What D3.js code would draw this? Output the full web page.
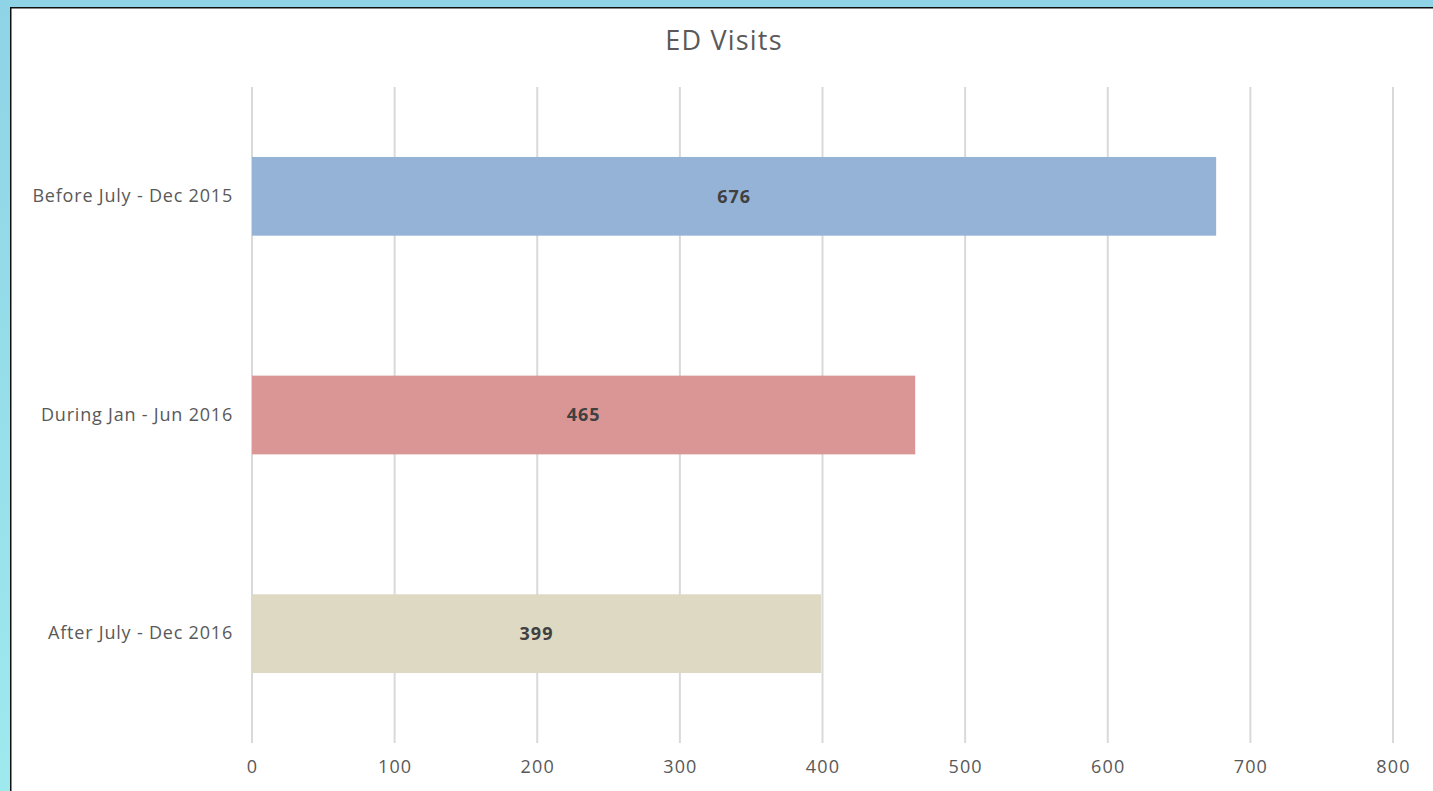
<!DOCTYPE html>
<html>
<head>
<meta charset="utf-8">
<script src="https://cdn.jsdelivr.net/npm/d3@7"></script>
<style>
  html, body { margin: 0; padding: 0; }
  body { width: 1433px; height: 791px; overflow: hidden;
         background: linear-gradient(#8fd3e6, #9ee9ee); }
  #chart { position: absolute; left: 10px; top: 7px; }
</style>
</head>
<body>
<div id="chart"></div>
<script>
// data
var categories = ["Before July - Dec 2015", "During Jan - Jun 2016", "After July - Dec 2016"];
var visits = [676, 465, 399];
var barColors = ["#95b3d7", "#d99694", "#ddd9c3"];
var tickValues = [0, 100, 200, 300, 400, 500, 600, 700, 800];

var W = 1423, H = 784;
var svg = d3.select("#chart").append("svg")
    .attr("width", W).attr("height", H)
    .style("background", "#fff")
    .style("display", "block");

// black frame line on top and left
svg.append("line").attr("x1", 0).attr("x2", W).attr("y1", 0).attr("y2", 0)
    .style("stroke", "#111").style("stroke-width", 3);
svg.append("line").attr("x1", 0).attr("x2", 0).attr("y1", 0).attr("y2", H)
    .style("stroke", "#111").style("stroke-width", 3);

var plotLeft = 242, plotRight = 1383, plotTop = 80, plotBottom = 736;

var x = d3.scaleLinear().domain([0, 800]).range([plotLeft, plotRight]);
var y = d3.scaleBand().domain(categories).range([plotTop, plotBottom]).paddingInner(0.64).paddingOuter(0.32);

var labelFont = "Open Sans, sans-serif";

svg.append("text")
    .attr("x", 714).attr("y", 43)
    .attr("text-anchor", "middle")
    .style("font-family", labelFont)
    .style("font-size", "27px")
    .style("letter-spacing", "1.2px")
    .style("fill", "#595959")
    .text("ED Visits");

// gridlines
svg.selectAll(".grid")
    .data(tickValues)
    .enter().append("line")
    .attr("class", "grid")
    .attr("x1", function(d) { return x(d); })
    .attr("x2", function(d) { return x(d); })
    .attr("y1", plotTop).attr("y2", plotBottom)
    .style("stroke", "#d9d9d9")
    .style("stroke-width", 2);

// x axis labels
var xAxis = d3.axisBottom(x).tickValues(tickValues).tickSize(0).tickPadding(17);
var gx = svg.append("g").attr("transform", "translate(0," + plotBottom + ")").call(xAxis);
gx.select(".domain").remove();
gx.selectAll("text")
    .style("font-family", labelFont)
    .style("font-size", "18px")
    .style("letter-spacing", "1.2px")
    .style("fill", "#595959");

// y axis labels
var yAxis = d3.axisLeft(y).tickSize(0).tickPadding(19);
var gy = svg.append("g").attr("transform", "translate(" + plotLeft + ",0)").call(yAxis);
gy.select(".domain").remove();
gy.selectAll("text")
    .style("font-family", labelFont)
    .style("font-size", "18px")
    .style("letter-spacing", "0.8px")
    .style("fill", "#595959");

// bars
svg.selectAll(".bar")
    .data(visits)
    .enter().append("rect")
    .attr("class", "bar")
    .attr("x", x(0))
    .attr("y", function(d, i) { return y(categories[i]); })
    .attr("width", function(d) { return x(d) - x(0); })
    .attr("height", y.bandwidth())
    .style("fill", function(d, i) { return barColors[i]; });

// value labels
svg.selectAll(".val")
    .data(visits)
    .enter().append("text")
    .attr("class", "val")
    .attr("x", function(d) { return (x(0) + x(d)) / 2; })
    .attr("y", function(d, i) { return y(categories[i]) + y.bandwidth() / 2; })
    .attr("dy", "0.35em")
    .attr("text-anchor", "middle")
    .style("font-family", labelFont)
    .style("font-size", "18px")
    .style("font-weight", "bold")
    .style("letter-spacing", "1px")
    .style("fill", "#404040")
    .text(function(d) { return d; });
</script>
</body>
</html>
